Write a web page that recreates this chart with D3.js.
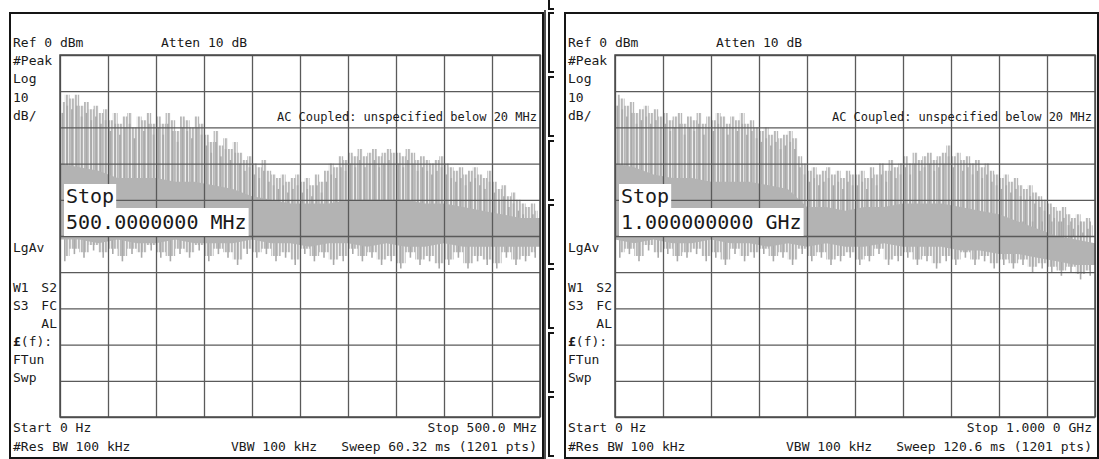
<!DOCTYPE html>
<html>
<head>
<meta charset="utf-8">
<script src="https://cdn.jsdelivr.net/npm/d3@7"></script>
<style>
body{margin:0;background:#fff}
svg text{font-family:"DejaVu Sans Mono",monospace;font-size:13px;fill:#1a1a1a}
</style>
</head>
<body>
<div class="chart"></div>
<script>
// spectrum analyzer screenshots, two sweeps (0-500 MHz and 0-1 GHz)
// levels in dBm, reference 0 dBm, 10 dB/div

// left sweep: peak spikes every 5 MHz
const leftPeaks = [
  -16,-14,-15,-14,-17,-16,-18,-17,-19,-18,
  -21,-19,-22,-20,-19,-23,-20,-21,-19,-22,
  -20,-22,-19,-21,-24,-20,-21,-23,-20,-22,
  -25,-27,-24,-28,-26,-29,-27,-30,-32,-31,
  -33,-34,-32,-35,-36,-37,-36,-38,-37,-36,
  -38,-37,-39,-36,-38,-35,-33,-34,-31,-32,
  -30,-31,-29,-31,-30,-29,-31,-30,-29,-30,
  -30,-31,-29,-30,-32,-31,-32,-33,-32,-31,
  -33,-34,-35,-34,-36,-35,-34,-36,-37,-35,
  -38,-40,-39,-42,-41,-43,-44,-45,-44,-46
]
// left sweep: lowest dips every 10 MHz
const leftDips = [
  -57,-55,-56,-54,-56,-55,-57,-55,-56,-54,
  -56,-57,-55,-56,-54,-57,-55,-56,-58,-55,
  -56,-55,-57,-56,-58,-55,-57,-56,-58,-57,
  -55,-57,-56,-58,-57,-59,-56,-58,-57,-59,
  -58,-56,-59,-57,-58,-59,-56,-58,-57,-56
]
// left sweep: dense band edges every 20 MHz
const leftBandTop = [-30,-31,-32,-34,-34,-34,-35,-35,-36,-37,-39,-40,-41,-41,-41,-40,-40,-40,-40,-41,-41,-42,-43,-44,-45,-45]
const leftBandBot = [-51,-51,-52,-51,-52,-52,-51,-52,-52,-52,-51,-52,-52,-53,-52,-52,-53,-52,-53,-53,-52,-53,-53,-53,-53,-53]

// right sweep: peak spikes every 10 MHz
const rightPeaks = [
  -14,-15,-17,-16,-19,-18,-17,-19,-18,-20,
  -19,-21,-20,-19,-22,-20,-21,-19,-22,-20,
  -21,-19,-20,-22,-20,-21,-19,-22,-21,-23,
  -24,-23,-25,-24,-26,-25,-24,-26,-31,-33,
  -35,-34,-36,-35,-34,-36,-35,-37,-35,-36,
  -36,-35,-37,-34,-36,-33,-35,-32,-34,-33,
  -31,-33,-30,-32,-31,-30,-32,-31,-30,-28,
  -31,-30,-32,-31,-33,-32,-34,-33,-35,-36,
  -37,-36,-38,-37,-39,-40,-39,-41,-42,-43,
  -44,-45,-46,-45,-47,-48,-47,-49,-48,-50
]
// right sweep: lowest dips every 20 MHz
const rightDips = [
  -56,-55,-57,-54,-56,-55,-57,-56,-55,-57,
  -56,-58,-55,-57,-56,-55,-57,-56,-58,-55,
  -57,-56,-58,-57,-56,-58,-57,-55,-58,-57,
  -56,-58,-57,-59,-57,-58,-56,-58,-57,-59,
  -58,-59,-58,-60,-59,-60,-61,-60,-62,-61
]
// right sweep: dense band edges every 40 MHz
const rightBandTop = [-30,-31,-33,-34,-34,-35,-35,-35,-36,-37,-42,-42,-43,-42,-42,-41,-41,-41,-42,-43,-44,-46,-48,-50,-51,-52]
const rightBandBot = [-51,-52,-51,-52,-52,-51,-52,-52,-53,-52,-53,-52,-53,-53,-52,-53,-53,-53,-54,-54,-55,-55,-56,-57,-58,-58]

// annotation texts
const topLabels = ["#Peak", "Log", "10", "dB/"]
const midLabels = ["FTun", "Swp"]
const panels = [
  {x0: 10, stop: 500, peaks: leftPeaks, dips: leftDips, bandTop: leftBandTop, bandBot: leftBandBot,
   bigStop: "500.0000000 MHz", stopText: "Stop 500.0 MHz", sweep: "Sweep 60.32 ms (1201 pts)"},
  {x0: 565, stop: 1000, peaks: rightPeaks, dips: rightDips, bandTop: rightBandTop, bandBot: rightBandBot,
   bigStop: "1.000000000 GHz", stopText: "Stop 1.000 0 GHz", sweep: "Sweep 120.6 ms (1201 pts)"}
]

const W = 1099, H = 459
const gridW = 480, gridH = 362, gridTop = 55

const svg = d3.select(".chart").append("svg")
  .attr("width", W)
  .attr("height", H)

const traceColor = "#b3b3b3"

// vertical hatching that stands in for the dense 1201-point sweep
const pat = svg.append("defs").append("pattern")
  .attr("id", "sweepLines")
  .attr("patternUnits", "userSpaceOnUse")
  .attr("width", 3).attr("height", 10)
pat.append("rect").attr("width", 3).attr("height", 10).attr("fill", "#eeeeee")
pat.append("rect").attr("width", 1.8).attr("height", 10).attr("fill", "#b8b8b8")

function drawPanel(p){
  const g = svg.append("g").attr("transform", `translate(${p.x0},0)`)

  // frame
  g.append("rect")
    .attr("x", 0).attr("y", 13)
    .attr("width", 533).attr("height", 445)
    .attr("fill", "none").attr("stroke", "#151515").attr("stroke-width", 2)

  const plot = g.append("g").attr("transform", `translate(50,${gridTop})`)

  const xScale = d3.scaleLinear().domain([0, p.stop]).range([0, gridW])
  const yScale = d3.scaleLinear().domain([0, -100]).range([0, gridH])

  const pStep = p.stop / p.peaks.length
  const dStep = p.stop / p.dips.length

  // hatched envelope under the peaks
  const env = d3.area()
    .curve(d3.curveStep)
    .x((d, i) => xScale((i + 0.5) * pStep))
    .y0(yScale(-50))
    .y1(d => yScale(d + 3))
  plot.append("path")
    .datum(p.peaks)
    .attr("d", env)
    .attr("fill", "url(#sweepLines)")

  // hatched envelope over the dips
  const envLow = d3.area()
    .curve(d3.curveStep)
    .x((d, i) => xScale((i + 0.5) * dStep))
    .y0(yScale(-48))
    .y1(d => yScale(d + 1.5))
  plot.append("path")
    .datum(p.dips)
    .attr("d", envLow)
    .attr("fill", "url(#sweepLines)")

  // spikes above the band
  plot.selectAll(".spike")
    .data(p.peaks)
    .join("line")
    .attr("class", "spike")
    .attr("x1", (d, i) => xScale((i + 0.5) * pStep))
    .attr("x2", (d, i) => xScale((i + 0.5) * pStep))
    .attr("y1", d => yScale(d))
    .attr("y2", yScale(-50))
    .attr("stroke", "#aaaaaa")
    .attr("stroke-width", 1.8)

  // dips below the band
  plot.selectAll(".dip")
    .data(p.dips)
    .join("line")
    .attr("class", "dip")
    .attr("x1", (d, i) => xScale((i + 0.5) * dStep))
    .attr("x2", (d, i) => xScale((i + 0.5) * dStep))
    .attr("y1", yScale(-46))
    .attr("y2", d => yScale(d))
    .attr("stroke", "#aaaaaa")
    .attr("stroke-width", 1.6)

  // dense band
  const bStep = p.stop / (p.bandTop.length - 1)
  const band = d3.area()
    .x((d, i) => xScale(i * bStep))
    .y0((d, i) => yScale(p.bandBot[i]))
    .y1(d => yScale(d))
  plot.append("path")
    .datum(p.bandTop)
    .attr("d", band)
    .attr("fill", traceColor)

  // graticule on top of the trace
  const xAxis = d3.axisBottom(xScale).ticks(10).tickSize(-gridH).tickFormat("")
  const yAxis = d3.axisLeft(yScale).ticks(10).tickSize(-gridW).tickFormat("")
  plot.append("g").attr("class", "grid").attr("transform", `translate(0,${gridH})`).call(xAxis)
  plot.append("g").attr("class", "grid").call(yAxis)
  plot.selectAll(".grid .domain").remove()
  plot.selectAll(".grid line").attr("stroke", "#5a5a5a").attr("stroke-width", 1.3)
  plot.append("rect")
    .attr("width", gridW).attr("height", gridH)
    .attr("fill", "none").attr("stroke", "#4a4a4a").attr("stroke-width", 1.5)

  // texts
  g.append("text").attr("x", 3).attr("y", 47).text("Ref 0 dBm")
  g.append("text").attr("x", 151).attr("y", 47).text("Atten 10 dB")
  g.selectAll(".toplab").data(topLabels).join("text")
    .attr("x", 3).attr("y", (d, i) => 65 + i * 18.3).text(d => d)
  g.append("text").attr("x", 527).attr("y", 121).attr("text-anchor", "end")
    .style("font-size", "12px")
    .text("AC Coupled: unspecified below 20 MHz")
  g.append("text").attr("x", 3).attr("y", 252).text("LgAv")
  g.append("text").attr("x", 3).attr("y", 292).text("W1")
  g.append("text").attr("x", 47).attr("y", 292).attr("text-anchor", "end").text("S2")
  g.append("text").attr("x", 3).attr("y", 310).text("S3")
  g.append("text").attr("x", 47).attr("y", 310).attr("text-anchor", "end").text("FC")
  g.append("text").attr("x", 47).attr("y", 328).attr("text-anchor", "end").text("AL")
  const fl = g.append("text").attr("x", 3).attr("y", 346)
  fl.append("tspan").attr("font-weight", "bold").text("£")
  fl.append("tspan").text("(f):")
  g.selectAll(".midlab").data(midLabels).join("text")
    .attr("x", 3).attr("y", (d, i) => 364 + i * 18).text(d => d)
  g.append("text").attr("x", 3).attr("y", 432).text("Start 0 Hz")
  g.append("text").attr("x", 3).attr("y", 451).text("#Res BW 100 kHz")
  g.append("text").attr("x", 221).attr("y", 451).text("VBW 100 kHz")
  g.append("text").attr("x", 527).attr("y", 432).attr("text-anchor", "end").text(p.stopText)
  g.append("text").attr("x", 527).attr("y", 451).attr("text-anchor", "end").text(p.sweep)

  // active function box
  const bigLines = ["Stop", p.bigStop]
  bigLines.forEach((t, i) => {
    const tx = g.append("text")
      .attr("x", 56).attr("y", 203 + i * 26)
      .style("font-size", "20px")
      .text(t)
    const bb = tx.node().getBBox()
    g.insert("rect", () => tx.node())
      .attr("x", 54).attr("y", 184 + i * 24)
      .attr("width", bb.width + 4).attr("height", 24 + i * 4)
      .attr("fill", "#fff")
  })
}

panels.forEach(drawPanel)

// extra line on the left frame edge and softkey brackets between panels
svg.append("line").attr("x1", 545).attr("x2", 545).attr("y1", 10).attr("y2", 459)
  .attr("stroke", "#151515").attr("stroke-width", 1.5)
const keyTops = d3.range(7).map(i => 13 + i * 64)
svg.selectAll(".key").data(keyTops).join("path")
  .attr("d", d => `M554,${d} H549 V${d + 59} H554`)
  .attr("fill", "none").attr("stroke", "#151515").attr("stroke-width", 2)
svg.append("path").attr("d", "M549,0 V9 H554").attr("fill", "none")
  .attr("stroke", "#151515").attr("stroke-width", 2)
</script>
</body>
</html>
